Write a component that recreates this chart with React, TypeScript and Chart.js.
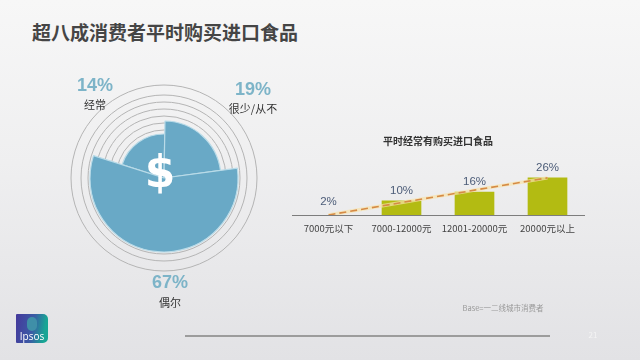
import React, { useEffect, useRef } from "react";
import { Chart, registerables } from "chart.js";

Chart.register(...registerables);

const titleText = "超八成消费者平时购买进口食品";
const wedgeNames = ["经常", "很少/从不", "偶尔"];
const wedgeShares = ["14%", "19%", "67%"];
const wedgeLevels = [44, 57, 74];
const wedgeAngles = [73.4, 81.4, 205.2];
const ringLevels = [0, 48, 55, 62, 69, 76, 83, 93];

const incomeLabels = ["7000元以下", "7000-12000元", "12001-20000元", "20000元以上"];
const buyingShare = [2, 10, 16, 26];
const trendValues = [0, 8.7, 17.4, 26];
const barFills = ["rgba(0,0,0,0)", "#b3bb12", "#b3bb12", "#b3bb12"];

const FONT = '"Noto Sans CJK SC", "Liberation Sans", sans-serif';
const LATIN = '"Liberation Sans", "Noto Sans CJK SC", sans-serif';

const barLabelPlugin = {
  id: "barLabels",
  afterDatasetsDraw(chart: any) {
    const meta = chart.getDatasetMeta(0);
    const ctx = chart.ctx;
    ctx.save();
    ctx.font = `11.5px ${LATIN}`;
    ctx.fillStyle = "#4c5c78";
    ctx.textAlign = "center";
    ctx.textBaseline = "middle";
    meta.data.forEach((el: any, i: number) => {
      ctx.fillText(`${buyingShare[i]}%`, el.x, el.y - 10);
    });
    ctx.restore();
  },
};

function Label(props: { x: number; y: number; size: number; color: string; bold?: boolean; text: string; font?: string }) {
  return (
    <div
      style={{
        position: "absolute",
        left: props.x - 100,
        top: props.y - 20,
        width: 200,
        height: 40,
        lineHeight: "40px",
        textAlign: "center",
        fontFamily: props.font || FONT,
        fontSize: props.size,
        fontWeight: props.bold ? 700 : 400,
        color: props.color,
        whiteSpace: "nowrap",
      }}
    >
      {props.text}
    </div>
  );
}

export default function App() {
  const polarRef = useRef<HTMLCanvasElement>(null);
  const barRef = useRef<HTMLCanvasElement>(null);

  useEffect(() => {
    const polar = new Chart(polarRef.current as HTMLCanvasElement, {
      type: "polarArea",
      data: {
        labels: wedgeNames,
        datasets: [
          {
            data: wedgeLevels,
            backgroundColor: "#69a9c6",
            borderColor: "#b9dbe8",
            borderWidth: 1.2,
            angle: (c: any) => wedgeAngles[c.dataIndex],
          } as any,
        ],
      },
      options: {
        responsive: false,
        animation: false,
        layout: { padding: 0 },
        plugins: { legend: { display: false }, tooltip: { enabled: false } },
        scales: {
          r: {
            min: 0,
            max: 100,
            startAngle: 287.6,
            ticks: { display: false },
            grid: { color: "#b4b4b4", lineWidth: 1 },
            afterBuildTicks: (s: any) => {
              s.ticks = ringLevels.map((value) => ({ value }));
            },
          } as any,
        },
      },
    });

    const bars = new Chart(barRef.current as HTMLCanvasElement, {
      type: "bar",
      plugins: [barLabelPlugin],
      data: {
        labels: incomeLabels,
        datasets: [
          {
            type: "bar",
            data: buyingShare,
            backgroundColor: barFills,
            barThickness: 39,
            order: 3,
          },
          {
            type: "line",
            data: trendValues,
            borderColor: "rgba(248,226,170,0.7)",
            borderWidth: 3.5,
            pointRadius: 0,
            tension: 0,
            order: 2,
          },
          {
            type: "line",
            data: trendValues,
            borderColor: "#d58a45",
            borderWidth: 1.6,
            borderDash: [7, 4],
            pointRadius: 0,
            tension: 0,
            order: 1,
          },
        ] as any,
      },
      options: {
        responsive: false,
        animation: false,
        layout: { padding: { left: 24, right: 24, top: 0, bottom: 0 } },
        plugins: {
          legend: { display: false },
          tooltip: { enabled: false },
          title: {
            display: true,
            text: "平时经常有购买进口食品",
            font: { family: FONT, size: 10, weight: "bold" },
            color: "#333333",
            padding: { top: 2, bottom: 6 },
          },
        },
        scales: {
          x: {
            grid: { display: false, drawTicks: false },
            border: { color: "#7d7d7d", width: 1 },
            ticks: { font: { family: FONT, size: 9.5 }, color: "#444444", padding: 8, maxRotation: 0, autoSkip: false },
            afterFit: (s: any) => {
              s.height = 30;
            },
          },
          y: { display: false, min: 0, max: 43.4 },
        },
      },
    });

    return () => {
      polar.destroy();
      bars.destroy();
    };
  }, []);

  return (
    <div
      style={{
        position: "fixed",
        left: 0,
        top: 0,
        width: 640,
        height: 360,
        overflow: "hidden",
        background: "linear-gradient(180deg, #f7f7f7 0%, #efeff0 45%, #e2e2e5 100%)",
      }}
    >
      <div
        style={{
          position: "absolute",
          left: 32,
          top: 12,
          height: 40,
          lineHeight: "40px",
          fontFamily: FONT,
          fontWeight: 700,
          fontSize: 19,
          color: "#454545",
          whiteSpace: "nowrap",
        }}
      >
        {titleText}
      </div>

      <canvas ref={polarRef} width={200} height={200} style={{ position: "absolute", left: 64, top: 78, width: 200, height: 200 }} />
      <canvas ref={barRef} width={340} height={112} style={{ position: "absolute", left: 268, top: 133, width: 340, height: 112 }} />

      <div
        style={{
          position: "absolute",
          left: 60,
          top: 172 - 40,
          width: 200,
          height: 80,
          lineHeight: "80px",
          textAlign: "center",
          fontFamily: '"DejaVu Sans", sans-serif',
          fontWeight: 700,
          fontSize: 44,
          color: "#ffffff",
        }}
      >
        $
      </div>

      <Label x={95} y={85} size={18} bold color="#7db4c8" font={LATIN} text={wedgeShares[0]} />
      <Label x={95} y={104} size={11} color="#333333" text={wedgeNames[0]} />
      <Label x={253} y={89} size={18} bold color="#7db4c8" font={LATIN} text={wedgeShares[1]} />
      <Label x={253} y={108} size={11} color="#333333" text={wedgeNames[1]} />
      <Label x={170} y={282} size={18} bold color="#7db4c8" font={LATIN} text={wedgeShares[2]} />
      <Label x={170} y={302} size={11} color="#333333" text={wedgeNames[2]} />

      <Label x={503} y={308} size={7.5} color="#9a9a9a" text="Base=一二线城市消费者" />
      <Label x={593} y={335} size={8} color="#f4f4f4" text="21" />

      <div style={{ position: "absolute", left: 185, top: 335, width: 365, height: 2, background: "#9c9c9c" }} />

      <div
        style={{
          position: "absolute",
          left: 16,
          top: 314,
          width: 32,
          height: 29,
          borderRadius: "1px 5px 5px 1px",
          background: "linear-gradient(100deg, #45399c 0%, #3b5aa5 50%, #18a594 85%)",
          overflow: "hidden",
        }}
      >
        <div style={{ position: "absolute", left: 11, top: 3, width: 10, height: 14, borderRadius: 5, background: "#3f8fa8" }} />
        <div
          style={{
            position: "absolute",
            left: 0,
            bottom: 1,
            width: 32,
            textAlign: "center",
            fontFamily: '"Open Sans", sans-serif',
            fontSize: 10,
            lineHeight: "12px",
            color: "#ffffff",
          }}
        >
          Ipsos
        </div>
      </div>
    </div>
  );
}
